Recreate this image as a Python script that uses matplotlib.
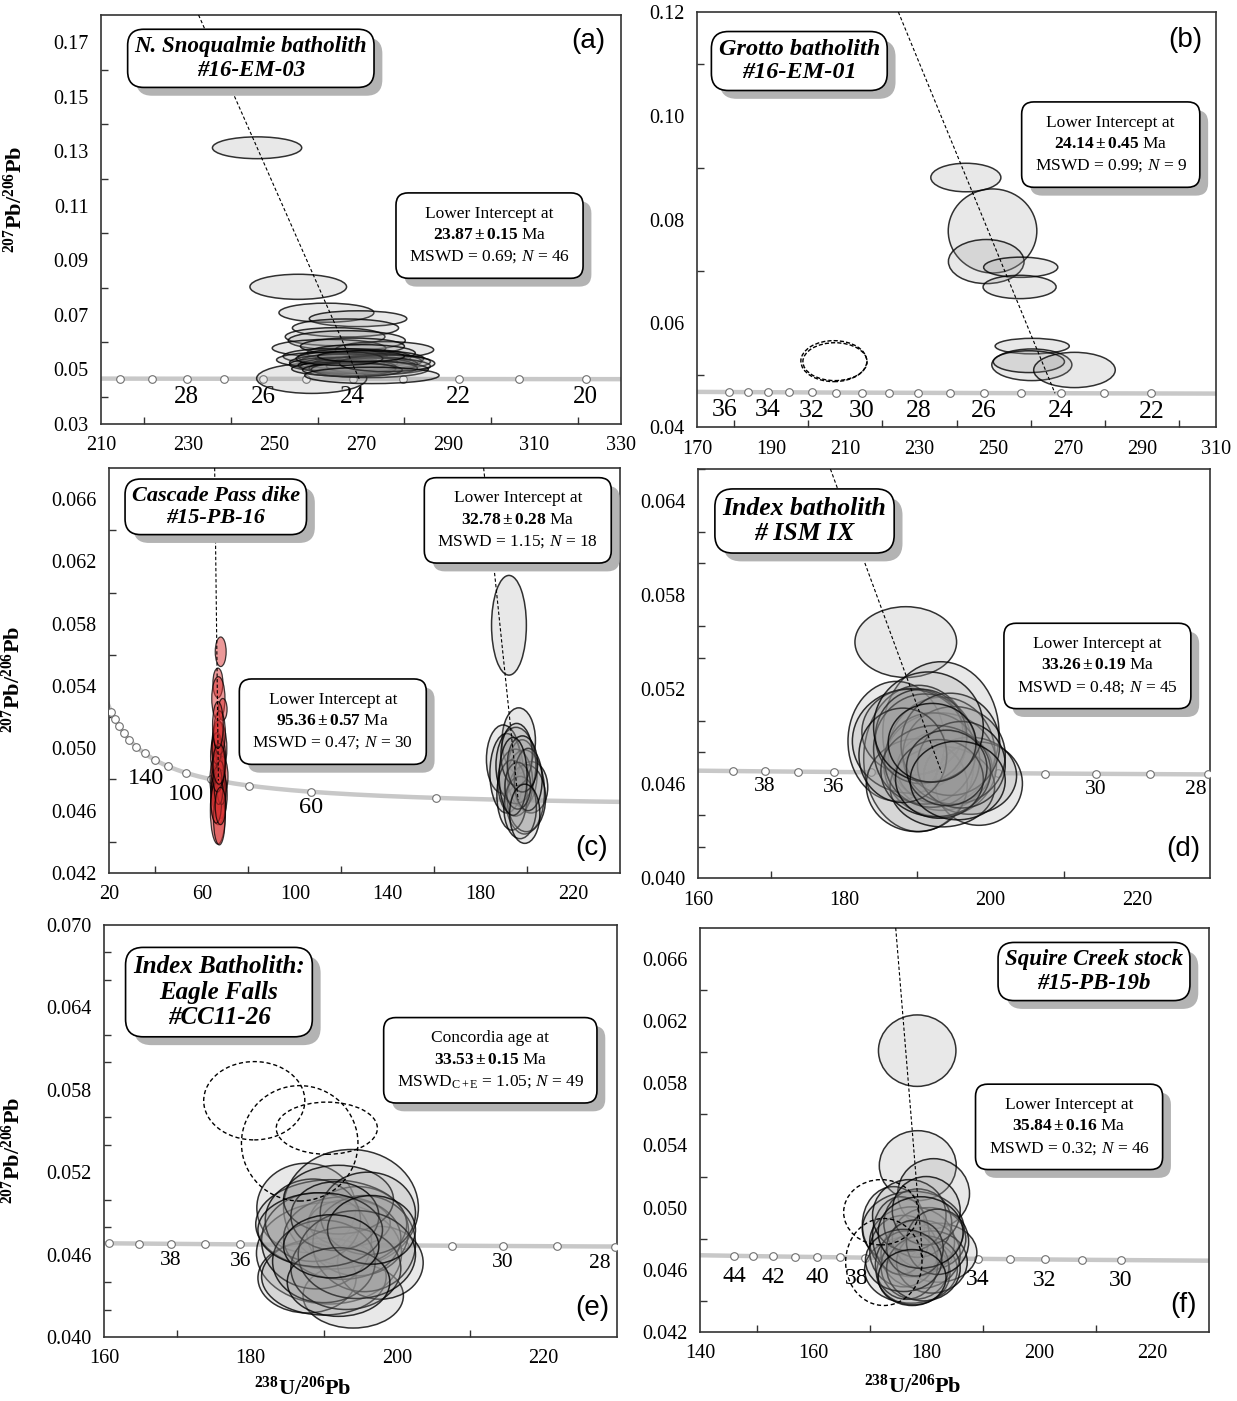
"""
Tera-Wasserburg concordia diagrams, panels (a)-(f)
Saves out.png
"""
import numpy as np
import matplotlib
matplotlib.use('Agg')
import matplotlib.pyplot as plt
from matplotlib.patches import Ellipse
from matplotlib.ticker import FormatStrFormatter
import matplotlib.patheffects as pe

plt.rcParams['font.family'] = ['Liberation Serif', 'DejaVu Serif']
plt.rcParams['mathtext.fontset'] = 'custom'
plt.rcParams['mathtext.rm'] = 'Liberation Serif'
plt.rcParams['mathtext.it'] = 'Liberation Serif:italic'
plt.rcParams['mathtext.bf'] = 'Liberation Serif:bold'

# decay constants (1/yr), 238U/235U
L238 = 1.55125e-10
L235 = 9.8485e-10
U85 = 137.88

# ---------------- data: ellipses = (centre x, centre y, full width, full height) ----------------
ELL_A = [
    (258.6, 0.0467, 25.4, 0.0110),
    (246.0, 0.1313, 20.6, 0.0080),
    (255.5, 0.0803, 22.3, 0.0092),
    (262.0, 0.0708, 21.9, 0.0070),
    (269.3, 0.0686, 22.5, 0.0058),
    (266.4, 0.0652, 24.5, 0.0066),
    (264.0, 0.0620, 23.0, 0.0066),
    (266.7, 0.0606, 27.0, 0.0072),
    (262.6, 0.0578, 26.2, 0.0064),
    (275.4, 0.0572, 22.7, 0.0060),
    (268.0, 0.0585, 24.0, 0.0060),
    (270.0, 0.0560, 25.0, 0.0062),
    (264.0, 0.0548, 24.0, 0.0058),
    (268.5, 0.0545, 26.0, 0.0060),
    (272.0, 0.0540, 25.0, 0.0058),
    (262.0, 0.0535, 23.0, 0.0056),
    (270.0, 0.0530, 28.0, 0.0062),
    (275.0, 0.0528, 22.0, 0.0056),
    (266.0, 0.0525, 25.0, 0.0060),
    (271.0, 0.0520, 24.0, 0.0056),
    (264.5, 0.0518, 22.0, 0.0052),
    (269.0, 0.0515, 27.0, 0.0058),
    (274.0, 0.0512, 24.0, 0.0060),
    (267.0, 0.0510, 22.0, 0.0050),
    (270.5, 0.0505, 25.0, 0.0054),
    (266.0, 0.0502, 24.0, 0.0052),
    (272.0, 0.0500, 27.0, 0.0060),
    (268.0, 0.0498, 23.0, 0.0050),
    (276.0, 0.0522, 22.0, 0.0060),
    (265.0, 0.0540, 20.0, 0.0050),
    (270.0, 0.0548, 20.0, 0.0040),
    (272.5, 0.0478, 31.0, 0.0060),
]

ELL_B = [
    (242.5, 0.0881, 18.9, 0.0055),
    (249.7, 0.0778, 23.9, 0.0162),
    (248.0, 0.0719, 20.4, 0.0085),
    (257.3, 0.0708, 20.0, 0.0039),
    (257.0, 0.0670, 19.7, 0.0045),
    (260.4, 0.0556, 20.0, 0.0030),
    (260.3, 0.0520, 21.6, 0.0061),
    (259.5, 0.0526, 19.2, 0.0042),
    (271.8, 0.0510, 22.0, 0.0068),
]
DASH_B = [
    (206.9, 0.0527, 17.8, 0.0079),
    (207.2, 0.0526, 17.3, 0.0073),
]

RED_C = [
    (68.1, 0.0562, 4.7, 0.0019), (66.9, 0.0542, 4.3, 0.0019),
    (67.1, 0.0532, 5.7, 0.0028), (69.0, 0.0525, 3.7, 0.0014),
    (67.5, 0.0500, 6.5, 0.0034), (67.0, 0.0505, 5.0, 0.0026),
    (66.5, 0.0495, 5.5, 0.0030), (68.0, 0.0490, 4.5, 0.0024),
    (67.2, 0.0485, 6.0, 0.0032), (66.0, 0.0480, 5.0, 0.0030),
    (68.5, 0.0482, 5.5, 0.0026), (67.0, 0.0476, 6.2, 0.0028),
    (66.5, 0.0472, 5.0, 0.0024), (68.0, 0.0470, 5.8, 0.0030),
    (67.5, 0.0478, 4.0, 0.0018), (66.8, 0.0488, 4.2, 0.0020),
    (68.2, 0.0495, 4.0, 0.0022), (67.0, 0.0468, 6.5, 0.0034),
    (66.9, 0.0460, 6.5, 0.0043), (67.5, 0.0455, 5.0, 0.0034),
    (66.2, 0.0465, 4.5, 0.0026), (68.5, 0.0475, 4.0, 0.0022),
    (67.8, 0.0484, 3.5, 0.0016), (66.4, 0.0500, 4.0, 0.0020),
    (67.6, 0.0510, 5.0, 0.0028), (67.2, 0.0473, 3.6, 0.0018),
    (66.7, 0.0480, 3.8, 0.0016), (68.0, 0.0463, 4.5, 0.0024),
    (67.4, 0.0490, 5.2, 0.0026), (66.9, 0.0515, 4.6, 0.0030),
]
GREY_C = [
    (192.2, 0.0579, 15.0, 0.0064),
    (196.4, 0.0505, 14.4, 0.0042),
    (189.7, 0.0493, 14.4, 0.0044),
    (191.2, 0.0484, 14.4, 0.0051),
    (197.9, 0.0484, 12.9, 0.0043),
    (201.7, 0.0475, 14.4, 0.0033),
    (198.9, 0.0472, 17.2, 0.0054),
    (194.9, 0.0478, 15.0, 0.0043),
    (199.7, 0.0468, 16.5, 0.0043),
    (195.2, 0.0489, 17.2, 0.0049),
    (193.5, 0.0470, 13.0, 0.0045),
    (197.0, 0.0462, 14.0, 0.0040),
    (195.5, 0.0496, 13.5, 0.0040),
    (200.5, 0.0480, 12.0, 0.0040),
    (196.0, 0.0476, 11.0, 0.0030),
    (198.0, 0.0490, 13.0, 0.0036),
    (194.0, 0.0482, 12.0, 0.0050),
    (199.0, 0.0458, 13.0, 0.0038),
]

ELL_D = [
    (188.4, 0.0550, 13.9, 0.0045),
    (193.2, 0.0492, 15.9, 0.0091),
    (187.1, 0.0487, 13.2, 0.0076),
    (190.2, 0.0476, 15.1, 0.0093),
    (193.3, 0.0479, 14.6, 0.0072),
    (193.1, 0.0472, 15.4, 0.0066),
    (193.7, 0.0470, 13.0, 0.0047),
    (189.3, 0.0493, 13.8, 0.0055),
    (188.9, 0.0487, 15.6, 0.0066),
    (198.4, 0.0460, 11.9, 0.0053),
    (197.2, 0.0465, 12.7, 0.0049),
    (189.9, 0.0459, 13.8, 0.0059),
    (193.4, 0.0458, 14.3, 0.0051),
    (191.0, 0.0482, 14.0, 0.0070),
    (192.0, 0.0475, 13.0, 0.0060),
    (195.0, 0.0478, 14.0, 0.0062),
    (190.5, 0.0490, 12.5, 0.0060),
    (194.5, 0.0485, 13.5, 0.0065),
    (192.5, 0.0468, 15.0, 0.0058),
    (196.0, 0.0472, 12.0, 0.0055),
    (188.0, 0.0478, 12.0, 0.0060),
    (193.0, 0.0463, 12.0, 0.0050),
    (191.5, 0.0496, 15.0, 0.0070),
    (194.0, 0.0470, 11.0, 0.0048),
    (192.0, 0.0486, 12.0, 0.0050),
    (195.5, 0.0462, 13.0, 0.0050),
]

ELL_E = [
    (187.6, 0.0494, 13.5, 0.0065),
    (193.7, 0.0494, 18.4, 0.0085),
    (190.7, 0.0461, 19.8, 0.0074),
    (194.0, 0.0430, 13.7, 0.0047),
    (187.7, 0.0443, 13.4, 0.0051),
    (190.0, 0.0444, 17.0, 0.0056),
    (197.7, 0.0454, 11.7, 0.0053),
    (194.6, 0.0477, 13.9, 0.0065),
    (193.5, 0.0483, 11.1, 0.0034),
    (191.0, 0.0482, 20.6, 0.0065),
    (189.0, 0.0470, 15.0, 0.0070),
    (192.5, 0.0472, 16.0, 0.0060),
    (195.5, 0.0468, 14.0, 0.0070),
    (188.5, 0.0485, 13.0, 0.0060),
    (192.0, 0.0500, 15.0, 0.0050),
    (196.0, 0.0490, 13.0, 0.0060),
    (190.0, 0.0455, 14.0, 0.0060),
    (193.0, 0.0450, 15.0, 0.0060),
    (191.5, 0.0488, 12.0, 0.0050),
    (194.5, 0.0460, 16.0, 0.0064),
    (189.5, 0.0478, 17.0, 0.0054),
    (192.0, 0.0440, 14.0, 0.0050),
    (196.5, 0.0478, 12.0, 0.0050),
    (191.0, 0.0466, 13.0, 0.0046),
]
DASH_E = [
    (180.5, 0.0572, 13.8, 0.0057),
    (186.7, 0.0541, 15.9, 0.0084),
    (190.4, 0.0552, 13.8, 0.0038),
]

ELL_F = [
    (178.4, 0.0601, 13.7, 0.0046),
    (178.5, 0.0527, 13.6, 0.0045),
    (181.3, 0.0509, 12.7, 0.0045),
    (174.2, 0.0489, 11.0, 0.0049),
    (177.7, 0.0486, 18.0, 0.0049),
    (182.1, 0.0471, 13.7, 0.0038),
    (177.3, 0.0460, 16.4, 0.0043),
    (177.7, 0.0458, 13.0, 0.0041),
    (177.5, 0.0478, 15.0, 0.0045),
    (179.0, 0.0470, 14.0, 0.0044),
    (176.0, 0.0472, 12.0, 0.0046),
    (180.5, 0.0480, 13.0, 0.0040),
    (178.0, 0.0462, 12.0, 0.0042),
    (175.5, 0.0482, 10.0, 0.0050),
    (181.0, 0.0465, 12.5, 0.0040),
    (178.5, 0.0490, 12.0, 0.0044),
    (176.5, 0.0463, 11.0, 0.0044),
    (179.5, 0.0461, 13.0, 0.0042),
    (177.0, 0.0495, 13.0, 0.0046),
    (180.0, 0.0498, 12.0, 0.0044),
    (182.0, 0.0478, 11.0, 0.0042),
    (178.0, 0.0474, 10.0, 0.0036),
    (176.0, 0.0466, 13.5, 0.0040),
    (179.0, 0.0484, 15.0, 0.0046),
    (177.5, 0.0455, 12.0, 0.0036),
]
DASH_F = [
    (172.0, 0.0497, 13.2, 0.0042),
    (172.5, 0.0465, 13.5, 0.0056),
]

# concordia age marks (Ma) and labelled ages
AGES_A, LAB_A = list(range(20, 31)), [28, 26, 24, 22, 20]
AGES_B, LAB_B = list(range(22, 37)), [36, 34, 32, 30, 28, 26, 24, 22]
AGES_C, LAB_C = list(range(40, 301, 20)), [140, 100, 60]
AGES_D, LAB_D = list(range(28, 40)), [38, 36, 30, 28]
AGES_E, LAB_E = list(range(28, 41)), [38, 36, 30, 28]
AGES_F, LAB_F = list(range(30, 45)), [44, 42, 40, 38, 34, 32, 30]

# discordia: (x at top of plot, y at top, lower-intercept age Ma)
DISC_A = (232.5, 0.180, 23.87)
DISC_B = (224.3, 0.120, 24.14)
DISC_C_RED = (65.5, 0.068, 95.36)
DISC_C_GREY = (181.3, 0.068, 32.78)
DISC_D = (178.1, 0.066, 33.26)
DISC_F = (174.6, 0.068, 35.84)


def tw(age_ma):
    t = np.asarray(age_ma, float) * 1e6
    e8 = np.exp(L238 * t) - 1
    e5 = np.exp(L235 * t) - 1
    return 1 / e8, e5 / e8 / U85


def setup(ax, xlim, ylim, xmaj, xmin, ymaj, ymin, yfmt):
    ax.set_xlim(*xlim)
    ax.set_ylim(*ylim)
    ax.set_xticks(xmaj)
    ax.set_xticks(xmin, minor=True)
    ax.set_yticks(ymaj)
    ax.set_yticks(ymin, minor=True)
    ax.yaxis.set_major_formatter(FormatStrFormatter(yfmt))
    ax.tick_params(which='major', length=0, pad=9, labelsize=14.5)
    ax.tick_params(which='minor', length=5, width=1, direction='in', color='#333333')
    for s in ax.spines.values():
        s.set_linewidth(1.2)
        s.set_color('#333333')


def concordia(ax, t_lo, t_hi, ages, labels, dy, fs, shift=None):
    shift = shift or {}
    x, y = tw(np.geomspace(t_lo, t_hi, 500))
    ax.plot(x, y, color='#c8c8c8', lw=3.2, zorder=2, solid_capstyle='butt')
    mx, my = tw(ages)
    ax.plot(mx, my, 'o', ms=5.5, mfc='white', mec='#707070', mew=0.8, zorder=3)
    for a in labels:
        lx, ly = tw(a)
        dx, ddy = shift.get(a, (0, dy))
        ax.annotate(str(a), (lx, ly), xytext=(dx, ddy), textcoords='offset points',
                    ha='center', va='center', fontsize=fs, zorder=3)


def ellipses(ax, rows, fc=(0.6, 0.6, 0.6, 0.22), ec=(0, 0, 0, 0.8), lw=1.1, ls='-'):
    for cx, cy, w, h in rows:
        ax.add_patch(Ellipse((cx, cy), w, h, fc=fc, ec=ec, lw=lw, ls=ls, zorder=4))


def discordia(ax, d):
    xt, yt, age = d
    xi, yi = tw(age)
    ax.plot([xt, xi], [yt, yi], color='k', lw=0.8, ls=(0, (3, 2)), zorder=5)


def box(ax, x, y, s, fs, pad, title=False, ls=1.45):
    kw = dict(fontweight='bold', fontstyle='italic') if title else {}
    t = ax.text(x, y, s, transform=ax.transAxes, ha='center', va='center', fontsize=fs,
                linespacing=ls, zorder=10,
                bbox=dict(boxstyle=f'round,pad={pad},rounding_size=0.7', fc='white',
                          ec='black', lw=1.2), **kw)
    t.get_bbox_patch().set_path_effects(
        [pe.withSimplePatchShadow(offset=(6, -6), shadow_rgbFace='0.7', alpha=1)])


def letter(ax, x, y, s):
    ax.text(x, y, s, transform=ax.transAxes, ha='center', va='center', fontsize=20,
            family='Liberation Sans', zorder=10)


def stat(head, age, tail):
    return head + '\n' + r'$\mathbf{' + age + r'}$ Ma' + '\n' + tail


fig = plt.figure(figsize=(12.37, 14.01), dpi=100)
ax_a = fig.add_axes([0.0817, 0.6974, 0.4204, 0.2919])
ax_b = fig.add_axes([0.5635, 0.6952, 0.4196, 0.2962])
ax_c = fig.add_axes([0.0881, 0.3769, 0.4131, 0.2891])
ax_d = fig.add_axes([0.5643, 0.3733, 0.4139, 0.2919])
ax_e = fig.add_axes([0.0841, 0.0457, 0.4147, 0.2941])
ax_f = fig.add_axes([0.5659, 0.0493, 0.4115, 0.2884])

ylab = r'$\mathbf{{}^{207}Pb/{}^{206}Pb}$'
xlab = r'$\mathbf{{}^{238}U/{}^{206}Pb}$'
STAT_FS = 12.5
TITLE_LS = 1.15
N_ = r'$\mathit{N}$'

# (a)
ax = ax_a
setup(ax, (210, 330), (0.03, 0.18), np.arange(210, 331, 20), np.arange(220, 321, 20),
      np.round(np.arange(0.03, 0.171, 0.02), 2), np.round(np.arange(0.04, 0.161, 0.02), 2), '%.2f')
concordia(ax, 15, 40, AGES_A, LAB_A, -13, 18)
ellipses(ax, ELL_A)
discordia(ax, DISC_A)
box(ax, 0.288, 0.894, 'N. Snoqualmie batholith\n#16-EM-03', 16.5, 0.3, title=True, ls=TITLE_LS)
box(ax, 0.747, 0.461, stat('Lower Intercept at', r'23.87\pm0.15', 'MSWD = 0.69; ' + N_ + ' = 46'), STAT_FS, 0.75)
letter(ax, 0.937, 0.936, '(a)')
ax.set_ylabel(ylab, fontsize=16)
ax.yaxis.set_label_coords(-0.142, 0.548)

# (b)
ax = ax_b
setup(ax, (170, 310), (0.04, 0.12), np.arange(170, 311, 20), np.arange(180, 301, 20),
      np.round(np.arange(0.04, 0.121, 0.02), 2), np.round(np.arange(0.05, 0.111, 0.02), 2), '%.2f')
concordia(ax, 20, 45, AGES_B, LAB_B, -13, 18.5, {36: (-3, -13)})
ellipses(ax, ELL_B)
ellipses(ax, DASH_B, fc='none', ec='black', lw=1.0, ls=(0, (3, 1.5)))
discordia(ax, DISC_B)
box(ax, 0.197, 0.882, 'Grotto batholith\n#16-EM-01', 17.5, 0.3, title=True, ls=TITLE_LS)
box(ax, 0.797, 0.681, stat('Lower Intercept at', r'24.14\pm0.45', 'MSWD = 0.99; ' + N_ + ' = 9'), STAT_FS, 0.75)
letter(ax, 0.940, 0.933, '(b)')

# (c)
ax = ax_c
setup(ax, (20, 240), (0.042, 0.068), np.arange(20, 221, 40), np.arange(40, 201, 40),
      np.round(np.arange(0.042, 0.0661, 0.004), 3), np.round(np.arange(0.044, 0.0641, 0.004), 3), '%.3f')
concordia(ax, 25, 340, AGES_C, LAB_C, -11, 17.5, {140: (-16, -9), 100: (-18, -11)})
ellipses(ax, RED_C, fc=(0.85, 0.2, 0.2, 0.5), ec=(0, 0, 0, 0.75), lw=0.9)
ellipses(ax, GREY_C)
discordia(ax, DISC_C_RED)
discordia(ax, DISC_C_GREY)
box(ax, 0.209, 0.904, 'Cascade Pass dike\n#15-PB-16', 16, 0.3, title=True, ls=TITLE_LS)
box(ax, 0.800, 0.871, stat('Lower Intercept at', r'32.78\pm0.28', 'MSWD = 1.15; ' + N_ + ' = 18'), STAT_FS, 0.75)
box(ax, 0.438, 0.374, stat('Lower Intercept at', r'95.36\pm0.57', 'MSWD = 0.47; ' + N_ + ' = 30'), STAT_FS, 0.75)
letter(ax, 0.945, 0.062, '(c)')
ax.set_ylabel(ylab, fontsize=16)
ax.yaxis.set_label_coords(-0.164, 0.477)

# (d)
ax = ax_d
y2d = np.round(np.arange(0.040, 0.0661, 0.002), 3)
setup(ax, (160, 230), (0.040, 0.066), np.arange(160, 221, 20), [170, 190, 210],
      np.round(np.arange(0.040, 0.0641, 0.006), 3), [v for v in y2d if round(v * 1000) % 6 != 4], '%.3f')
concordia(ax, 25, 45, AGES_D, LAB_D, -11, 15.5, {28: (-9, -11)})
ellipses(ax, ELL_D)
discordia(ax, DISC_D)
box(ax, 0.208, 0.873, 'Index batholith\n# ISM IX', 18.5, 0.3, title=True, ls=TITLE_LS)
box(ax, 0.780, 0.519, stat('Lower Intercept at', r'33.26\pm0.19', 'MSWD = 0.48; ' + N_ + ' = 45'), STAT_FS, 0.75)
letter(ax, 0.947, 0.071, '(d)')

# (e)
ax = ax_e
y2e = np.round(np.arange(0.040, 0.0701, 0.002), 3)
setup(ax, (160, 230), (0.040, 0.070), np.arange(160, 221, 20), [170, 190, 210],
      np.round(np.arange(0.040, 0.0701, 0.006), 3), [v for v in y2e if round(v * 1000) % 6 != 4], '%.3f')
concordia(ax, 25, 45, AGES_E, LAB_E, -12, 15.5, {28: (-11, -12)})
ellipses(ax, ELL_E)
ellipses(ax, DASH_E, fc='none', ec='black', lw=1.0, ls=(0, (3, 2)))
box(ax, 0.224, 0.837, 'Index Batholith:\nEagle Falls\n#CC11-26', 18, 0.3, title=True, ls=TITLE_LS)
box(ax, 0.753, 0.672, stat('Concordia age at', r'33.53\pm0.15',
                           'MSWD$_{\\mathrm{C+E}}$ = 1.05; ' + N_ + ' = 49'), STAT_FS, 0.75)
letter(ax, 0.951, 0.070, '(e)')
ax.set_ylabel(ylab, fontsize=16)
ax.yaxis.set_label_coords(-0.154, 0.454)
ax.set_xlabel(xlab, fontsize=16)
ax.xaxis.set_label_coords(0.388, -0.095)

# (f)
ax = ax_f
setup(ax, (140, 230), (0.042, 0.068), np.arange(140, 221, 20), np.arange(150, 211, 20),
      np.round(np.arange(0.042, 0.0661, 0.004), 3), np.round(np.arange(0.044, 0.0641, 0.004), 3), '%.3f')
concordia(ax, 25, 50, AGES_F, LAB_F, -15, 17, {38: (-6, -15)})
ellipses(ax, ELL_F)
ellipses(ax, DASH_F, fc='none', ec='black', lw=1.0, ls=(0, (3, 2)))
discordia(ax, DISC_F)
box(ax, 0.774, 0.892, 'Squire Creek stock\n#15-PB-19b', 16.5, 0.3, title=True, ls=TITLE_LS)
box(ax, 0.725, 0.508, stat('Lower Intercept at', r'35.84\pm0.16', 'MSWD = 0.32; ' + N_ + ' = 46'), STAT_FS, 0.75)
letter(ax, 0.949, 0.067, '(f)')
ax.set_xlabel(xlab, fontsize=16)
ax.xaxis.set_label_coords(0.418, -0.105)

fig.savefig('out.png', dpi=100)
print('Saved: out.png')
